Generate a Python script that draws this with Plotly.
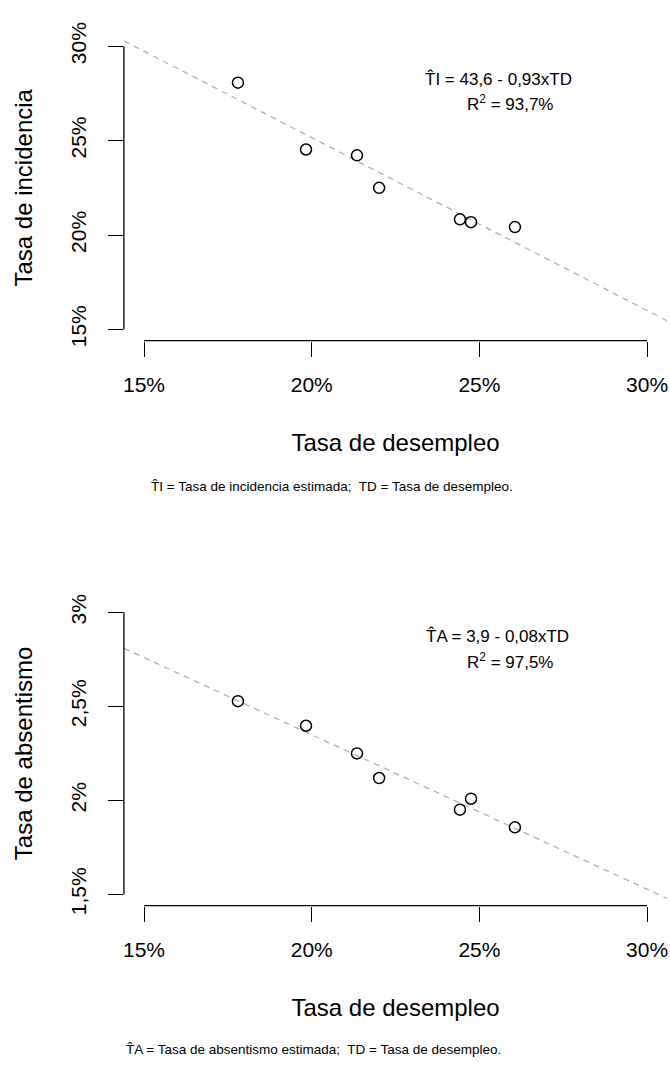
import numpy as np
import plotly.graph_objects as go

# ---- data ----
td = [17.80, 19.83, 21.35, 22.01, 24.42, 24.75, 26.06]          # Tasa de desempleo (%)
ti = [28.07, 24.53, 24.22, 22.50, 20.83, 20.68, 20.42]          # Tasa de incidencia (%)
ta = [2.528, 2.397, 2.250, 2.119, 1.951, 2.009, 1.857]          # Tasa de absentismo (%)

x_ticks = [15, 20, 25, 30]
x_ticklabels = ["15%", "20%", "25%", "30%"]
ti_ticks = [15, 20, 25, 30]
ti_ticklabels = ["15%", "20%", "25%", "30%"]
ta_ticks = [1.5, 2.0, 2.5, 3.0]
ta_ticklabels = ["1,5%", "2%", "2,5%", "3%"]

eq_ti = "T\u0302I = 43,6 - 0,93xTD"
r2_ti = "R<sup>2</sup> = 93,7%"
eq_ta = "T\u0302A = 3,9 - 0,08xTD"
r2_ta = "R<sup>2</sup> = 97,5%"
note_ti = "T\u0302I = Tasa de incidencia estimada;  TD = Tasa de desempleo."
note_ta = "T\u0302A = Tasa de absentismo estimada;  TD = Tasa de desempleo."

FONT = "Arial, 'Liberation Sans', sans-serif"
W, H = 670, 1066

def ext(lo, hi):
    d = (hi - lo) * 0.04
    return [lo - d, hi + d]

xr = ext(min(x_ticks), max(x_ticks))

fig = go.Figure()

panels = [
    dict(y=ti, ticks=ti_ticks, labels=ti_ticklabels, title="Tasa de incidencia",
         xa="x", ya="y", dom=[0.6861, 0.9790]),
    dict(y=ta, ticks=ta_ticks, labels=ta_ticklabels, title="Tasa de absentismo",
         xa="x2", ya="y2", dom=[0.1449, 0.4367]),
]

for i, p in enumerate(panels):
    slope, inter = np.polyfit(td, p["y"], 1)
    lx = np.array(xr)
    fig.add_trace(go.Scatter(x=lx, y=inter + slope * lx, mode="lines",
                             line=dict(color="#b0b0b0", width=1.3, dash="6px,5px"),
                             xaxis=p["xa"], yaxis=p["ya"], hoverinfo="skip",
                             showlegend=False))
    fig.add_trace(go.Scatter(x=td, y=p["y"], mode="markers",
                             marker=dict(symbol="circle-open", size=11,
                                         color="black", line=dict(width=1.5)),
                             xaxis=p["xa"], yaxis=p["ya"], showlegend=False))
    sfx = "" if i == 0 else "2"
    yr = ext(min(p["ticks"]), max(p["ticks"]))
    fig.update_layout(**{
        "xaxis" + sfx: dict(domain=[0.184, 0.9973], range=xr, anchor="y" + sfx,
                            tickvals=x_ticks, ticktext=x_ticklabels,
                            showgrid=False, zeroline=False, showline=False,
                            ticks="outside", ticklen=15, tickwidth=1.3, tickcolor="black",
                            tickfont=dict(size=21, color="black", family=FONT),
                            ticklabelstandoff=10,
                            title=dict(text="Tasa de desempleo", standoff=39,
                                       font=dict(size=24, color="black", family=FONT))),
        "yaxis" + sfx: dict(domain=p["dom"], range=yr, anchor="x" + sfx,
                            tickvals=p["ticks"], ticktext=p["labels"], tickangle=-90,
                            showgrid=False, zeroline=False, showline=False,
                            ticks="outside", ticklen=15, tickwidth=1.3, tickcolor="black",
                            tickfont=dict(size=21, color="black", family=FONT),
                            ticklabelstandoff=14,
                            title=dict(text=p["title"], standoff=27,
                                       font=dict(size=24, color="black", family=FONT))),
    })
    # R-style axis lines spanning first..last tick
    fig.add_shape(type="line", xref=p["xa"], yref=p["ya"] + " domain",
                  x0=min(x_ticks), x1=max(x_ticks), y0=0, y1=0,
                  line=dict(color="black", width=1.3))
    fig.add_shape(type="line", xref=p["xa"] + " domain", yref=p["ya"],
                  x0=0, x1=0, y0=min(p["ticks"]), y1=max(p["ticks"]),
                  line=dict(color="black", width=1.3))

annots = [
    (eq_ti, 499, 67), (r2_ti, 511, 92),
    (eq_ta, 498, 636), (r2_ta, 511, 662),
]
for txt, px, py in annots:
    fig.add_annotation(text=txt, x=px / W, y=1 - py / H, xref="paper", yref="paper",
                       showarrow=False, xanchor="center", yanchor="middle",
                       font=dict(size=17, color="black", family=FONT))

for txt, px, py in [(note_ti, 148, 483), (note_ta, 123, 1058)]:
    fig.add_annotation(text=txt, x=px / W, y=1 - py / H, xref="paper", yref="paper",
                       showarrow=False, xanchor="left", yanchor="middle",
                       font=dict(size=13.5, color="black", family=FONT))

fig.update_layout(width=W, height=H, margin=dict(l=0, r=0, t=0, b=0),
                  paper_bgcolor="white", plot_bgcolor="white",
                  font=dict(family=FONT, color="black"))

fig.write_html("out.html", config={"displayModeBar": False},
               post_script="document.body.style.margin='0';"
                           "document.body.style.overflow='hidden';")
